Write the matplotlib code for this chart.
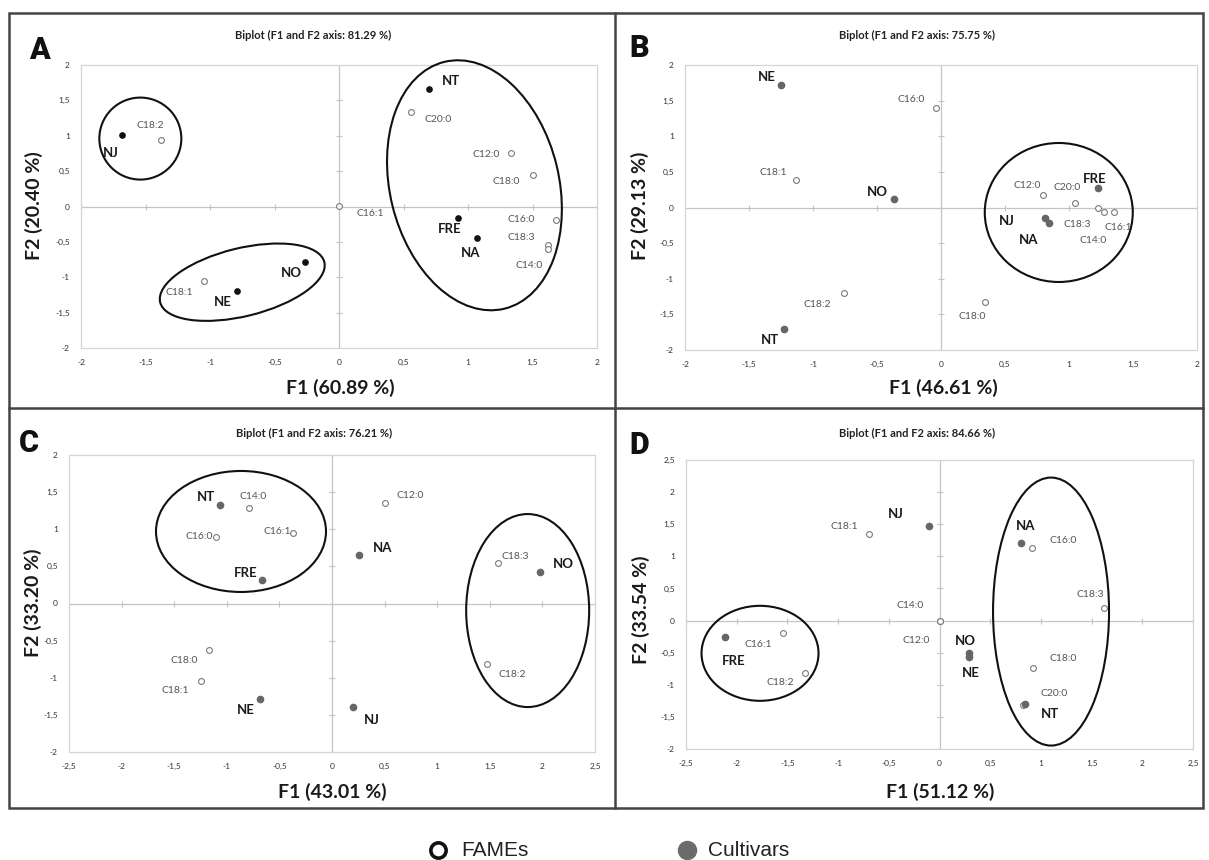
import matplotlib
matplotlib.use("Agg")
import matplotlib.pyplot as plt
import numpy as np
from matplotlib.patches import Ellipse, Rectangle
from matplotlib.lines import Line2D
from matplotlib.transforms import ScaledTranslation
from matplotlib.ticker import FuncFormatter, MultipleLocator

W, H, DPI = 1209, 860, 100
FONT = ["Lato", "DejaVu Sans"]

titles = ["Biplot (F1 and F2 axis: 81.29 %)", "Biplot (F1 and F2 axis: 75.75 %)",
          "Biplot (F1 and F2 axis: 76.21 %)", "Biplot (F1 and F2 axis: 84.66 %)"]
f1_pct = ["60.89", "46.61", "43.01", "51.12"]
f2_pct = ["20.40", "29.13", "33.20", "33.54"]

# A
a_fames = ["C18:2", "C20:0", "C12:0", "C18:0", "C16:1", "C16:0", "C18:3", "C14:0", "C18:1"]
a_fames_x = [-1.38, 0.56, 1.33, 1.50, 0.00, 1.68, 1.62, 1.62, -1.05]
a_fames_y = [0.94, 1.34, 0.76, 0.45, 0.01, -0.19, -0.54, -0.60, -1.05]
a_cult = ["NT", "NJ", "FRE", "NA", "NO", "NE"]
a_cult_x = [0.70, -1.68, 0.92, 1.07, -0.26, -0.79]
a_cult_y = [1.66, 1.01, -0.16, -0.45, -0.79, -1.19]

# B
b_fames = ["C16:0", "C18:1", "C12:0", "C20:0", "C18:3", "C14:0", "C16:1", "C18:2", "C18:0"]
b_fames_x = [-0.04, -1.13, 0.80, 1.05, 1.23, 1.27, 1.35, -0.76, 0.34]
b_fames_y = [1.39, 0.38, 0.18, 0.07, 0.00, -0.07, -0.06, -1.20, -1.33]
b_cult = ["NE", "NO", "FRE", "NJ", "NA", "NT"]
b_cult_x = [-1.25, -0.37, 1.23, 0.81, 0.84, -1.23]
b_cult_y = [1.72, 0.12, 0.28, -0.15, -0.22, -1.71]

# C
c_fames = ["C14:0", "C16:0", "C16:1", "C12:0", "C18:3", "C18:0", "C18:1", "C18:2"]
c_fames_x = [-0.79, -1.10, -0.37, 0.50, 1.58, -1.17, -1.25, 1.47]
c_fames_y = [1.28, 0.90, 0.95, 1.36, 0.54, -0.62, -1.04, -0.81]
c_cult = ["NT", "FRE", "NA", "NO", "NE", "NJ"]
c_cult_x = [-1.06, -0.67, 0.26, 1.98, -0.68, 0.20]
c_cult_y = [1.32, 0.32, 0.65, 0.43, -1.28, -1.40]

# D
d_fames = ["C18:1", "C16:0", "C18:3", "C14:0", "C12:0", "C16:1", "C18:2", "C18:0", "C20:0"]
d_fames_x = [-0.70, 0.91, 1.62, 0.00, 0.00, -1.54, -1.33, 0.92, 0.82]
d_fames_y = [1.35, 1.13, 0.19, 0.00, -0.01, -0.19, -0.82, -0.74, -1.32]
d_cult = ["NJ", "NA", "FRE", "NO", "NE", "NT"]
d_cult_x = [-0.10, 0.80, -2.12, 0.29, 0.29, 0.84]
d_cult_y = [1.48, 1.20, -0.26, -0.51, -0.57, -1.30]

# label nudges in pixels
a_nudge = {"NT": (22, 8), "C20:0": (27, -8), "NJ": (-11, -18), "C18:2": (-11, 14),
           "C12:0": (-24, -2), "C18:0": (-26, -7), "C16:1": (31, -8), "FRE": (-8, -11),
           "NA": (-6, -15), "C16:0": (-35, 0), "C18:3": (-27, 7), "C14:0": (-19, -17),
           "NO": (-14, -11), "NE": (-14, -11), "C18:1": (-24, -12)}
b_nudge = {"NE": (-14, 8), "C16:0": (-25, 9), "C18:1": (-23, 8), "NO": (-16, 7),
           "C12:0": (-16, 9), "C20:0": (-8, 15), "FRE": (-4, 9), "NJ": (-38, -3),
           "NA": (-20, -17), "C18:3": (-21, -17), "C14:0": (-10, -28), "C16:1": (4, -16),
           "C18:2": (-26, -11), "C18:0": (-12, -14), "NT": (-14, -11)}
c_nudge = {"NT": (-14, 8), "C14:0": (4, 12), "C16:0": (-17, 0), "C16:1": (-16, 1),
           "FRE": (-16, 7), "C12:0": (26, 7), "NA": (23, 7), "C18:3": (17, 7),
           "NO": (23, 8), "C18:0": (-25, -11), "C18:1": (-25, -10), "NE": (-15, -11),
           "NJ": (19, -13), "C18:2": (26, -11)}
d_nudge = {"C18:1": (-24, 7), "NJ": (-34, 12), "NA": (5, 17), "C16:0": (31, 7),
           "C18:3": (-14, 14), "C14:0": (-29, 15), "C12:0": (-23, -19), "FRE": (9, -24),
           "C16:1": (-25, -12), "C18:2": (-24, -9), "NO": (-4, 12), "NE": (2, -16),
           "C18:0": (30, 10), "C20:0": (31, 12), "NT": (25, -10)}

panels = [
    dict(letter="A", box=(81, 65, 597, 348), xlim=(-2, 2), ylim=(-2, 2),
         fames=(a_fames, a_fames_x, a_fames_y), cult=(a_cult, a_cult_x, a_cult_y),
         nudge=a_nudge, dot="#111111", dot_size=3.8,
         ellipses=[(-1.54, 0.96, 82, 82, 0), (1.05, 0.30, 169, 254, 13.7),
                   (-0.75, -1.07, 169, 68, 13.8)],
         letter_xy=(39, 50), title_xy=(313, 35), f1_xy=(340, 388), f2_xy=(34, 206)),
    dict(letter="B", box=(685, 65, 1197, 350), xlim=(-2, 2), ylim=(-2, 2),
         fames=(b_fames, b_fames_x, b_fames_y), cult=(b_cult, b_cult_x, b_cult_y),
         nudge=b_nudge, dot="#666666", dot_size=4.5,
         ellipses=[(0.92, -0.07, 148, 139, 0)],
         letter_xy=(639, 48), title_xy=(917, 35), f1_xy=(943, 388), f2_xy=(640, 206)),
    dict(letter="C", box=(69, 455, 595, 752), xlim=(-2.5, 2.5), ylim=(-2, 2),
         fames=(c_fames, c_fames_x, c_fames_y), cult=(c_cult, c_cult_x, c_cult_y),
         nudge=c_nudge, dot="#666666", dot_size=4.5,
         ellipses=[(-0.865, 0.97, 170, 121, 0), (1.86, -0.095, 123, 193, 0)],
         letter_xy=(29, 443), title_xy=(314, 433), f1_xy=(332, 792), f2_xy=(33, 603)),
    dict(letter="D", box=(686, 460, 1193, 749), xlim=(-2.5, 2.5), ylim=(-2, 2.5),
         fames=(d_fames, d_fames_x, d_fames_y), cult=(d_cult, d_cult_x, d_cult_y),
         nudge=d_nudge, dot="#666666", dot_size=4.5,
         ellipses=[(-1.77, -0.51, 117, 95, 0), (1.10, 0.14, 116, 268, 0)],
         letter_xy=(639, 445), title_xy=(917, 433), f1_xy=(940, 792), f2_xy=(641, 610)),
]


def px(x, y):
    return x / W, 1 - y / H


def comma(v, pos):
    return f"{v:g}".replace(".", ",")


fig = plt.figure(figsize=(W / DPI, H / DPI), dpi=DPI)

for i, p in enumerate(panels):
    l, t, r, b = p["box"]
    ax = fig.add_axes([l / W, 1 - b / H, (r - l) / W, (b - t) / H])
    ax.set_xlim(*p["xlim"])
    ax.set_ylim(*p["ylim"])
    for s in ax.spines.values():
        s.set_color("#d4d4d4")
        s.set_linewidth(0.9)
    ax.xaxis.set_major_locator(MultipleLocator(0.5))
    ax.yaxis.set_major_locator(MultipleLocator(0.5))
    ax.xaxis.set_major_formatter(FuncFormatter(comma))
    ax.yaxis.set_major_formatter(FuncFormatter(comma))
    ax.tick_params(length=0, labelsize=6, labelcolor="#333333", pad=8)
    for lab in ax.get_xticklabels() + ax.get_yticklabels():
        lab.set_family(FONT)

    # zero axes with Excel-style tick marks
    ax.axhline(0, color="#c4c4c4", lw=0.9, zorder=1)
    ax.axvline(0, color="#c4c4c4", lw=0.9, zorder=1)
    xt = np.arange(p["xlim"][0], p["xlim"][1] + 0.01, 0.5)
    yt = np.arange(p["ylim"][0], p["ylim"][1] + 0.01, 0.5)
    ax.plot(xt, np.zeros_like(xt), ls="none", marker="|", ms=5, mew=0.8, color="#c4c4c4", zorder=1)
    ax.plot(np.zeros_like(yt), yt, ls="none", marker="_", ms=5, mew=0.8, color="#c4c4c4", zorder=1)

    names, fx, fy = p["fames"]
    ax.plot(fx, fy, ls="none", marker="o", ms=4.2, mfc="white", mec="#7a7a7a", mew=0.8, zorder=3)
    for n, x, y in zip(names, fx, fy):
        ax.annotate(n, (x, y), xytext=p["nudge"][n], textcoords="offset pixels",
                    ha="center", va="center", fontsize=7.5, color="#555555",
                    family=FONT, zorder=4)

    names, cx, cy = p["cult"]
    ax.plot(cx, cy, ls="none", marker="o", ms=p["dot_size"], mfc=p["dot"], mec=p["dot"], zorder=3)
    for n, x, y in zip(names, cx, cy):
        ax.annotate(n, (x, y), xytext=p["nudge"][n], textcoords="offset pixels",
                    ha="center", va="center", fontsize=9.5, fontweight="bold",
                    color="#1a1a1a", family=FONT, zorder=4)

    for ex, ey, ew, eh, ang in p["ellipses"]:
        tr = fig.dpi_scale_trans + ScaledTranslation(ex, ey, ax.transData)
        ax.add_patch(Ellipse((0, 0), ew / DPI, eh / DPI, angle=ang, transform=tr,
                             fill=False, ec="#111111", lw=1.5, clip_on=False, zorder=5))

    fig.text(*px(*p["title_xy"]), titles[i], ha="center", va="center",
             fontsize=8, fontweight="bold", family=FONT, color="#222222")
    fig.text(*px(*p["f1_xy"]), f"F1 ({f1_pct[i]} %)", ha="center", va="center",
             fontsize=14, fontweight="bold", family=FONT, color="#1a1a1a")
    fig.text(*px(*p["f2_xy"]), f"F2 ({f2_pct[i]} %)", ha="center", va="center",
             rotation=90, fontsize=14, fontweight="bold", family=FONT, color="#1a1a1a")
    fig.text(*px(*p["letter_xy"]), p["letter"], ha="center", va="center",
             fontsize=22, fontweight="heavy", color="#111111",
             family=["Liberation Sans Narrow", "Roboto", "DejaVu Sans"])

# panel frame
x0, y0 = px(9, 808)
x1, y1 = px(1203, 13)
fig.add_artist(Rectangle((x0, y0), x1 - x0, y1 - y0, transform=fig.transFigure,
                         fill=False, ec="#444444", lw=1.8))
vx, _ = px(615, 0)
_, hy = px(0, 408)
fig.add_artist(Line2D([vx, vx], [y0, y1], transform=fig.transFigure, color="#444444", lw=1.8))
fig.add_artist(Line2D([x0, x1], [hy, hy], transform=fig.transFigure, color="#444444", lw=1.8))

# legend
lx, ly = px(438, 850)
fig.add_artist(Line2D([lx], [ly], transform=fig.transFigure, ls="none", marker="o",
                      ms=11, mfc="white", mec="#111111", mew=2.6))
fig.text(*px(461, 850), "FAMEs", ha="left", va="center", fontsize=15,
         family=["Liberation Sans", "DejaVu Sans"], color="#222222")
gx, gy = px(687, 850)
fig.add_artist(Line2D([gx], [gy], transform=fig.transFigure, ls="none", marker="o",
                      ms=13, mfc="#6b6b6b", mec="#6b6b6b"))
fig.text(*px(708, 850), "Cultivars", ha="left", va="center", fontsize=15,
         family=["Liberation Sans", "DejaVu Sans"], color="#222222")

fig.savefig("out.png", dpi=DPI)
